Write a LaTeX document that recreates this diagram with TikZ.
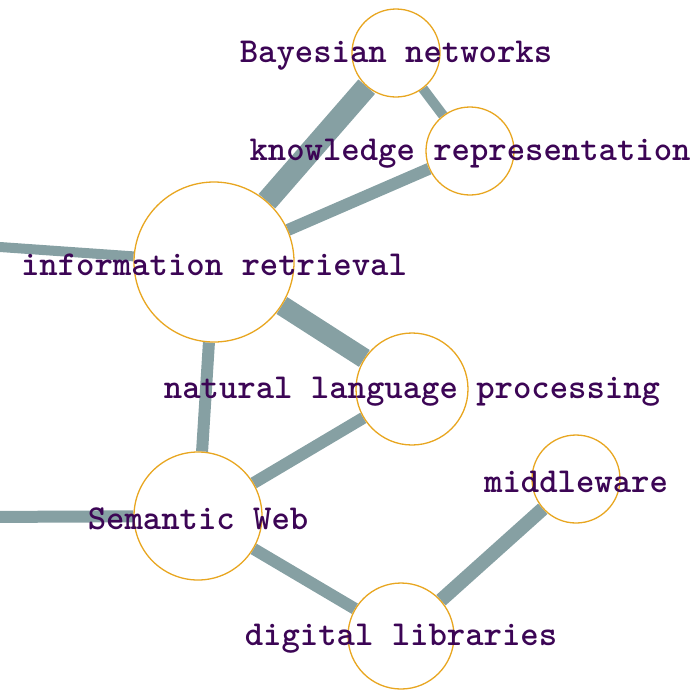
\documentclass[tikz,border=0pt]{standalone}
\usepackage{fontspec}
\usetikzlibrary{backgrounds}
\definecolor{edgecol}{RGB}{134,160,163}
\definecolor{ringcol}{RGB}{232,166,32}
\definecolor{txtcol}{RGB}{60,5,85}
\tikzset{
  vert/.style={circle, draw=ringcol, line width=1.3pt, fill=white, inner sep=0pt, minimum size=#1},
  lbl/.style={font=\ttfamily\bfseries\fontsize{35}{35}\selectfont, text=txtcol, inner sep=0pt, anchor=center, yshift=-3pt},
  link/.style={draw=edgecol, line width=#1}
}
\begin{document}
\begin{tikzpicture}[x=1pt,y=-1pt]
\useasboundingbox (0,0) rectangle (700,689);
\node[vert=88pt] (bn) at (396,53) {};
\node[vert=88pt] (kr) at (470,151) {};
\node[vert=160pt] (ir) at (214,262) {};
\node[vert=112pt] (nlp) at (412,389) {};
\node[vert=128pt] (sw) at (198,516) {};
\node[vert=88pt] (mw) at (576,479) {};
\node[vert=106pt] (dl) at (401,636) {};
\coordinate (irl) at (-20,245.6);
\coordinate (swl) at (-20,517);
\begin{scope}[on background layer]
\draw[link=22pt] (ir) -- (bn);
\draw[link=10pt] (bn) -- (kr);
\draw[link=12pt] (ir) -- (kr);
\draw[link=10pt] (ir) -- (irl);
\draw[link=20pt] (ir) -- (nlp);
\draw[link=12pt] (ir) -- (sw);
\draw[link=12pt] (nlp) -- (sw);
\draw[link=12pt] (sw) -- (swl);
\draw[link=12pt] (sw) -- (dl);
\draw[link=14pt] (mw) -- (dl);
\end{scope}
\node[lbl] (tbn) at (bn) {Bayesian networks};
\node[lbl] (tkr) at (kr) {knowledge representation};
\node[lbl] (tir) at (ir) {information retrieval};
\node[lbl] (tnlp) at (nlp) {natural language processing};
\node[lbl] (tsw) at (sw) {Semantic Web};
\node[lbl] (tmw) at (mw) {middleware};
\node[lbl] (tdl) at (dl) {digital libraries};
\end{tikzpicture}
\end{document}
